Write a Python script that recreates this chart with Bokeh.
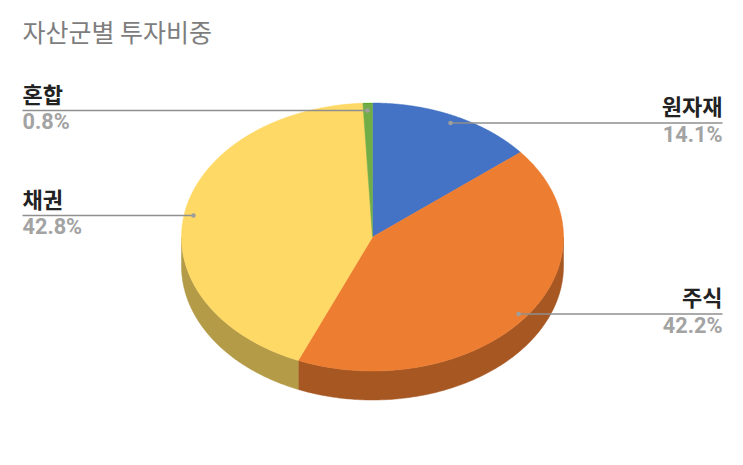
import numpy as np
from bokeh.plotting import figure
from bokeh.models import Range1d
from bokeh.core.properties import value
from bokeh.embed import file_html
from bokeh.resources import INLINE

title = "자산군별 투자비중"
categories = ["원자재", "주식", "채권", "혼합"]
shares = [14.1, 42.2, 42.8, 0.8]
share_labels = ["14.1%", "42.2%", "42.8%", "0.8%"]
top_colors = ["#4472c4", "#ed7d31", "#ffd966", "#70ad47"]
wall_colors = ["#30508a", "#a65722", "#b39b47", "#4e7932"]

# Layout, in page pixels
W, H = 735, 457
CX, CY, RX, RY, DEPTH = 372, 236.5, 191, 134, 29
leader_y = [122.5, 313.5, 215, 110]
leader_dot_x = [450, 518, 193, 367]
leader_end_x = [722, 722, 22, 22]
label_align = ["right", "right", "left", "left"]


def edge(a, dy=0.0):
    return CX + RX * np.sin(a), CY - RY * np.cos(a) + dy


p = figure(width=W, height=H, output_backend="svg", toolbar_location=None,
           x_range=Range1d(0, W), y_range=Range1d(H, 0),
           min_border=0, outline_line_color=None, background_fill_color="white",
           border_fill_color="white")
p.axis.visible = False
p.grid.visible = False

bounds = np.concatenate([[0], np.cumsum(shares)]) / np.sum(shares) * 2 * np.pi

# Side wall: only the front half of the rim is visible
for i in range(len(shares)):
    a0, a1 = max(bounds[i], np.pi / 2), min(bounds[i + 1], 3 * np.pi / 2)
    if a1 <= a0:
        continue
    t = np.linspace(a0, a1, 160)
    x0, y0 = edge(t)
    x1, y1 = edge(t[::-1], DEPTH)
    p.patch(np.r_[x0, x1], np.r_[y0, y1], fill_color=wall_colors[i], line_color=wall_colors[i], line_width=0.5)

# Top face
for i in range(len(shares)):
    t = np.linspace(bounds[i], bounds[i + 1], 240)
    x, y = edge(t)
    p.patch(np.r_[CX, x], np.r_[CY, y], fill_color=top_colors[i], line_color=top_colors[i], line_width=0.5)

# Leaders and labels
for i in range(len(shares)):
    p.line([leader_dot_x[i], leader_end_x[i]], [leader_y[i]] * 2, line_color="#8f8f8f", line_width=1.3)
p.scatter(leader_dot_x, leader_y, size=4.5, fill_color="#9e9e9e", line_color=None)

p.text(leader_end_x, np.array(leader_y) - 18, text=categories, text_align=label_align,
       text_baseline="alphabetic", text_font=value("Noto Sans CJK KR"), text_font_style="bold",
       text_font_size="22px", text_color="#222222")
p.text(leader_end_x, np.array(leader_y) + 11, text=share_labels, text_align=label_align,
       text_baseline="alphabetic", text_font=value("Roboto"), text_font_style="bold",
       text_font_size="21.7px", text_color="#a3a3a3")

p.text([22], [30], text=[title], text_align="left", text_baseline="alphabetic",
       text_font=value("Noto Sans CJK KR"), text_font_size="25px", text_color="#7d7d7d")

open("out.html", "w").write(file_html(p, INLINE))
